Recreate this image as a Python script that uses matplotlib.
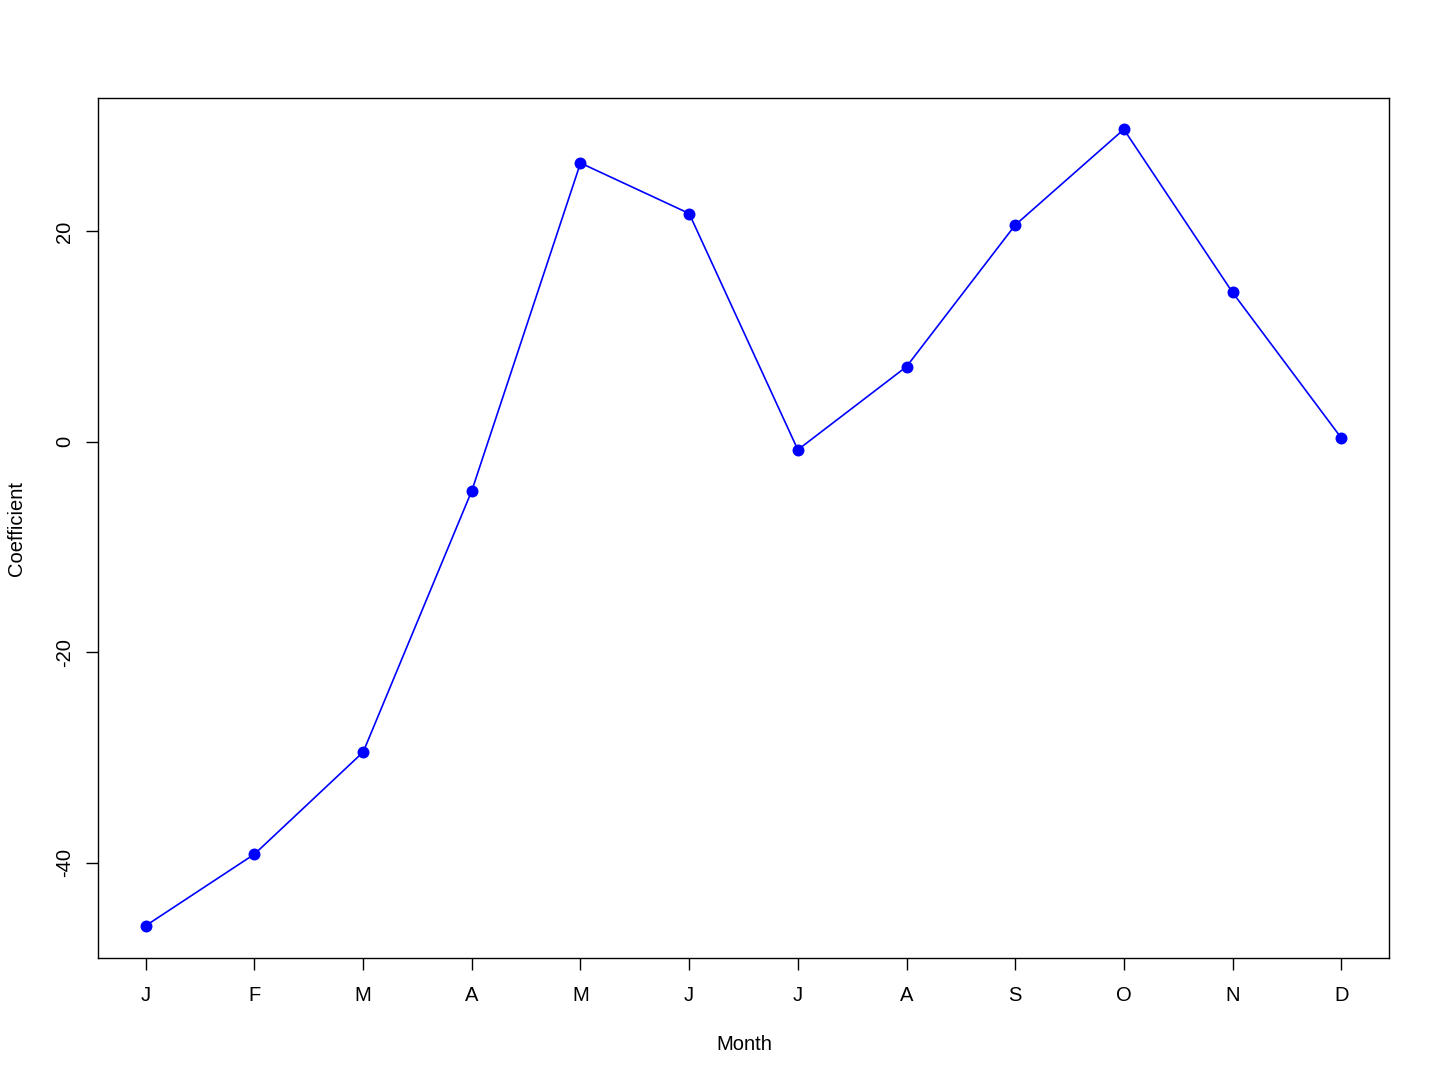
import matplotlib
matplotlib.use("Agg")
import matplotlib.pyplot as plt

months = ["J", "F", "M", "A", "M", "J", "J", "A", "S", "O", "N", "D"]
month_index = list(range(1, 13))
coefficient = [-46.0, -39.2, -29.5, -4.65, 26.5, 21.7, -0.76, 7.14, 20.6, 29.7, 14.2, 0.38]
y_ticks = [-40, -20, 0, 20]

plt.rcParams["font.family"] = ["Liberation Sans", "DejaVu Sans"]

fig = plt.figure(figsize=(14.4, 10.8), dpi=100)
ax = fig.add_axes([98/1440, 1 - 957.5/1080, (1389-98)/1440, (957.5-97.5)/1080])

ax.plot(month_index, coefficient, color="#0000FF", lw=1.2, marker="o",
        markersize=8.6, markeredgewidth=0)

lo, hi = min(coefficient), max(coefficient)
pad = 0.04 * (hi - lo)
ax.set_ylim(lo - pad, hi + pad)
ax.set_xlim(1 - 0.04 * 11, 12 + 0.04 * 11)

ax.set_xticks(month_index)
ax.set_xticklabels(months)
ax.set_yticks(y_ticks)
ax.set_yticklabels([str(v) for v in y_ticks], rotation=90, va="center")
ax.tick_params(axis="both", length=8.6, width=1.0, labelsize=14.5, color="black")
ax.tick_params(axis="x", pad=12)
ax.tick_params(axis="y", pad=8.5)
for s in ax.spines.values():
    s.set_linewidth(1.0)
    s.set_color("black")

fig.text(744/1440, 1 - 1044/1080, "Month", ha="center", va="center", fontsize=14.5)
fig.text(17/1440, 1 - 528/1080, "Coefficient", ha="center", va="center",
         rotation=90, fontsize=14.5)

fig.savefig("out.png", dpi=100, facecolor="white")
